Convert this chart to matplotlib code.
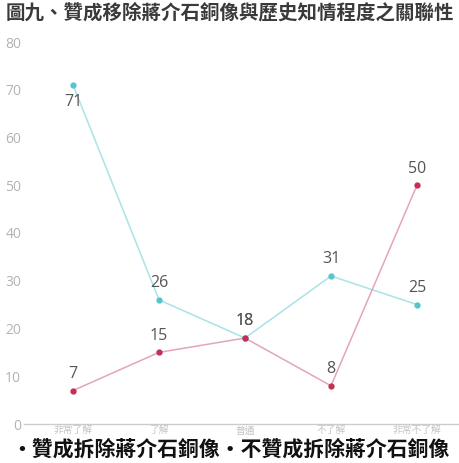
import matplotlib
matplotlib.use('Agg')
import matplotlib.pyplot as plt
import numpy as np

plt.rcParams['font.family'] = ['Noto Sans CJK TC', 'DejaVu Sans']

# 資料
categories = ['非常了解', '了解', '普通', '不了解', '非常不了解']
series_names = ['贊成拆除蔣介石銅像', '不贊成拆除蔣介石銅像']
support = [71, 26, 18, 31, 25]
oppose = [7, 15, 18, 8, 50]
y_ticks = [0, 10, 20, 30, 40, 50, 60, 70, 80]

title = '圖九、贊成移除蔣介石銅像與歷史知情程度之關聯性'

x = np.arange(len(categories))

fig = plt.figure(figsize=(4.6, 4.63), dpi=100)
ax = fig.add_axes([24 / 460, 1 - 424 / 463, 1 - 24 / 460, (424 - 42) / 463])

line_specs = [
    (support, '#a9e3e7', '#55c5cc'),
    (oppose, '#e3a6b6', '#c42f55'),
]
for vals, lc, mc in line_specs:
    ax.plot(x, vals, color=lc, lw=1.1, zorder=2)
    ax.plot(x, vals, 'o', color=mc, ms=3.5, zorder=3)

# 數值標籤
for si, (vals, _, _) in enumerate(line_specs):
    for i, v in enumerate(vals):
        below = si == 0 and i == 0
        ax.annotate(str(v), (x[i], v), xytext=(0, -12 if below else 12),
                    textcoords='offset points', ha='center', va='center',
                    fontsize=11.5, color='#555555', family=['Open Sans', 'DejaVu Sans'])

ax.set_xlim(-49 / 86, 4 + 43 / 86)
ax.set_ylim(0, 80)
ax.set_yticks(y_ticks)
ax.set_yticklabels([str(t) for t in y_ticks], fontsize=10, color='#b3b3b3',
                   family=['Open Sans', 'DejaVu Sans'])
ax.set_xticks(x)
ax.set_xticklabels(categories, fontsize=7, color='#c4c4c4')
ax.tick_params(axis='x', length=0, pad=1)
ax.tick_params(axis='y', length=0, pad=2)
for s in ['top', 'right', 'left']:
    ax.spines[s].set_visible(False)
ax.spines['bottom'].set_color('#cccccc')
ax.spines['bottom'].set_linewidth(1)

fig.text(0.5, 1 - 13 / 463, title, ha='center', va='center', fontsize=14,
         fontweight='bold', color='#3a3a3a')

legend_text = ''.join('\u00b7' + n for n in series_names)
fig.text(0.5, 1 - 449 / 463, legend_text, ha='center', va='center', fontsize=15,
         fontweight='bold', color='#111111')

plt.savefig('out.png', dpi=100)
